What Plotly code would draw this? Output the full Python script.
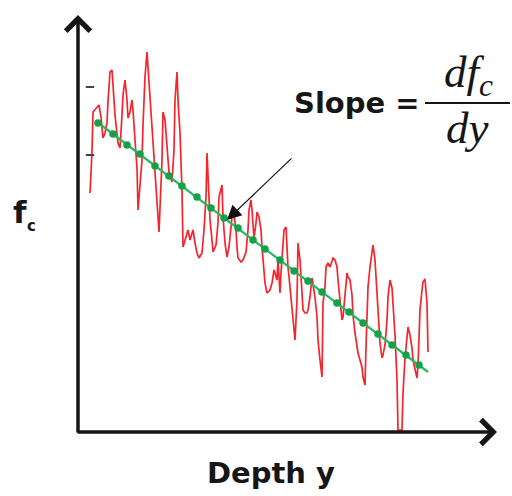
import plotly.graph_objects as go

depth = [12, 13, 14, 15, 19, 21, 23, 25, 27, 29, 30, 32, 34, 35, 37, 40, 42, 44, 45, 47,
         49, 50, 52, 54, 55, 57, 59, 60, 62, 64, 65, 67, 69, 70, 72, 74, 77, 79, 81, 84,
         85, 87, 89, 91, 94, 96, 97, 99, 100, 102, 104, 105, 108, 110, 112, 115, 117, 119, 121, 124,
         126, 128, 129, 130, 132, 134, 135, 138, 140, 141, 144, 145, 147, 149, 151, 153, 154, 156, 158, 159,
         160, 163, 165, 168, 170, 171, 173, 174, 175, 176, 178, 179, 181, 182, 183, 184, 186, 187, 189, 192,
         194, 196, 197, 199, 200, 202, 203, 205, 206, 208, 210, 212, 214, 215, 217, 219, 220, 222, 224, 225,
         227, 229, 230, 232, 234, 235, 237, 239, 240, 242, 244, 245, 247, 248, 250, 252, 254, 255, 257, 259,
         260, 262, 264, 265, 267, 269, 270, 272, 274, 275, 277, 279, 280, 282, 284, 285, 287, 288, 289, 290,
         292, 294, 295, 297, 299, 300, 302, 304, 305, 307, 309, 310, 312, 314, 315, 317, 319, 320, 324, 325,
         327, 329, 330, 332, 334, 335, 337, 339, 340, 342, 344, 345, 347, 349, 350]
fc = [239, 254, 280, 320, 324, 327, 315, 294, 299, 309, 330, 360, 362, 347, 317, 289, 284, 317, 337, 352,
      332, 314, 320, 332, 322, 292, 264, 222, 244, 272, 307, 355, 380, 364, 339, 309, 254, 222, 200, 272,
      320, 312, 287, 260, 250, 282, 332, 360, 332, 299, 242, 185, 195, 202, 192, 202, 189, 179, 174, 179,
      202, 235, 279, 259, 212, 192, 180, 187, 209, 235, 247, 215, 189, 175, 185, 205, 215, 217, 202, 185,
      174, 170, 172, 180, 202, 222, 232, 222, 202, 194, 209, 220, 215, 210, 202, 185, 162, 149, 139, 142,
      149, 162, 159, 152, 172, 139, 159, 185, 202, 205, 165, 145, 122, 107, 92, 132, 189, 172, 145, 122,
      119, 119, 122, 135, 154, 147, 135, 115, 92, 72, 55, 129, 145, 165, 169, 165, 170, 174, 172, 165,
      152, 132, 112, 115, 142, 159, 155, 152, 137, 117, 99, 85, 79, 72, 65, 55, 47, 85, 119, 145,
      165, 180, 187, 172, 139, 112, 89, 74, 77, 87, 112, 135, 152, 144, 129, 97, 52, 2, 2, 39,
      74, 97, 105, 97, 84, 72, 64, 54, 67, 122, 142, 150, 153, 129, 80]

# Linear trend (slope) line and its sample dots
fit_depth = [19, 350]
fit_fc = [310, 60]
dot_depth = [20, 35, 49, 62, 77, 91, 104, 119, 133, 146, 160, 175, 187, 202, 216, 230,
             244, 259, 271, 285, 300, 314, 328, 341]
dot_fc = [309, 298, 287, 278, 266, 256, 246, 235, 224, 214, 204, 192, 183, 172, 161, 151,
          140, 129, 120, 109, 98, 87, 77, 67]

# Small tick dashes on the f_c axis
tick_depth = [12, 12]
tick_fc = [345, 277]

fig = go.Figure()
fig.add_trace(go.Scatter(x=depth, y=fc, mode="lines",
                         line=dict(color="rgb(246,36,44)", width=1.7),
                         hoverinfo="skip"))
fig.add_trace(go.Scatter(x=fit_depth, y=fit_fc, mode="lines",
                         line=dict(color="rgb(40,185,95)", width=2.2),
                         hoverinfo="skip"))
fig.add_trace(go.Scatter(x=dot_depth, y=dot_fc, mode="markers",
                         marker=dict(color="rgb(22,160,72)", size=7.5),
                         hoverinfo="skip"))
fig.add_trace(go.Scatter(x=tick_depth, y=tick_fc, mode="markers",
                         marker=dict(symbol="line-ew", size=6,
                                     line=dict(color="#444", width=2)),
                         hoverinfo="skip"))

axis_col = "#161616"
bold = dict(family="DejaVu Sans", size=29, color="#161616", weight="bold")
math_font = dict(family="Liberation Serif", size=45, color="#161616")
annotations = [
    # y axis with open arrowhead
    dict(x=0, y=417, ax=0, ay=-2, xref="x", yref="y", axref="x", ayref="y",
         text="", showarrow=True, arrowhead=4, arrowsize=1.35, arrowwidth=3.5,
         arrowcolor=axis_col),
    # x axis with open arrowhead
    dict(x=419, y=0, ax=-2, ay=0, xref="x", yref="y", axref="x", ayref="y",
         text="", showarrow=True, arrowhead=4, arrowsize=1.35, arrowwidth=3.5,
         arrowcolor=axis_col),
    # pointer to the slope line
    dict(x=149, y=212, ax=215, ay=275, xref="x", yref="y", axref="x", ayref="y",
         text="", showarrow=True, arrowhead=2, arrowsize=2.4, arrowwidth=1.2,
         arrowcolor="#111"),
    dict(x=279, y=329, xref="x", yref="y", text="Slope =", showarrow=False,
         font=bold, xanchor="center", yanchor="middle"),
    dict(x=390, y=357, xref="x", yref="y", text="<i>df</i><sub><i>c</i></sub>",
         showarrow=False, xanchor="center", yanchor="middle", font=math_font),
    dict(x=389, y=304, xref="x", yref="y", text="<i>dy</i>",
         showarrow=False, xanchor="center", yanchor="middle", font=math_font),
    dict(x=-58, y=220, xref="x", yref="y", text="f", showarrow=False,
         font=dict(family="DejaVu Sans", size=31, color="#161616", weight="bold"),
         xanchor="center", yanchor="middle"),
    dict(x=-47, y=206, xref="x", yref="y", text="c", showarrow=False,
         font=dict(family="DejaVu Sans", size=15, color="#161616", weight="bold"),
         xanchor="center", yanchor="middle"),
    dict(x=193, y=-41, xref="x", yref="y", text="Depth y", showarrow=False,
         font=bold, xanchor="center", yanchor="middle"),
]

shapes = [
    # fraction bar
    dict(type="line", xref="x", yref="y", x0=347, x1=432, y0=329, y1=329,
         line=dict(color="#161616", width=2)),
]

fig.update_layout(
    width=512, height=496,
    margin=dict(l=0, r=0, t=0, b=0),
    paper_bgcolor="white", plot_bgcolor="white",
    showlegend=False,
    xaxis=dict(range=[-78, 434], visible=False, fixedrange=True),
    yaxis=dict(range=[-64, 432], visible=False, fixedrange=True),
    annotations=annotations,
    shapes=shapes,
)

fig.write_html("out.html")
